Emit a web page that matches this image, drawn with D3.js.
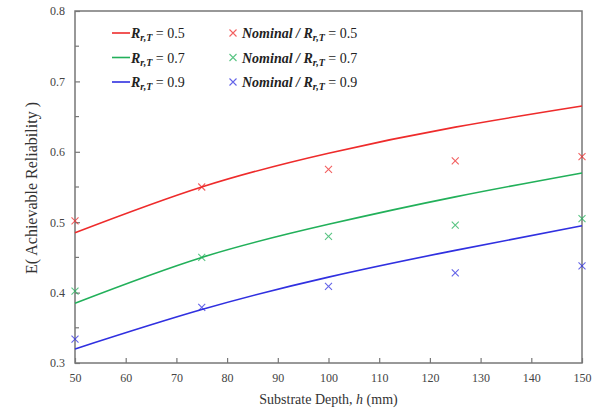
<!DOCTYPE html>
<html>
<head>
<meta charset="utf-8">
<script src="https://cdn.jsdelivr.net/npm/d3@7"></script>
<style>
  body { margin: 0; background: #fff; }
  svg text { font-family: "Liberation Serif", "Times New Roman", serif; }
</style>
</head>
<body>
<div id="chart"></div>
<script>
// data
const depths = [50, 75, 100, 125, 150];
const modelR05 = [0.485, 0.550, 0.598, 0.635, 0.665];
const modelR07 = [0.385, 0.450, 0.497, 0.536, 0.570];
const modelR09 = [0.320, 0.376, 0.422, 0.460, 0.495];
const nomR05 = [0.502, 0.550, 0.575, 0.587, 0.593];
const nomR07 = [0.402, 0.450, 0.480, 0.496, 0.505];
const nomR09 = [0.334, 0.379, 0.409, 0.428, 0.438];
const xTicks = [50, 60, 70, 80, 90, 100, 110, 120, 130, 140, 150];
const yTicks = [0.3, 0.4, 0.5, 0.6, 0.7, 0.8];
const yMinor = [0.35, 0.45, 0.55, 0.65, 0.75];

const series = [
    { r: "0.5", color: "#ee2b2b", line: modelR05, pts: nomR05 },
    { r: "0.7", color: "#22b05a", line: modelR07, pts: nomR07 },
    { r: "0.9", color: "#3030e0", line: modelR09, pts: nomR09 }
];

const width = 594, height = 413;
const margin = { top: 11, right: 12, bottom: 50, left: 75 };
const w = width - margin.left - margin.right;
const h = height - margin.top - margin.bottom;

const svg = d3.select("#chart").append("svg")
    .attr("width", width)
    .attr("height", height);

const g = svg.append("g")
    .attr("transform", `translate(${margin.left},${margin.top})`);

const x = d3.scaleLinear().domain([50, 150]).range([0, w]);
const y = d3.scaleLinear().domain([0.3, 0.8]).range([h, 0]);

const axisColor = "#777";
const labelColor = "#444";
const serif = "'Liberation Serif', 'Times New Roman', serif";

// frame
g.append("rect")
    .attr("width", w).attr("height", h)
    .attr("fill", "none")
    .attr("stroke", axisColor)
    .attr("stroke-width", 1.5);

// x axis, ticks inward
const xAxis = g.append("g")
    .attr("transform", `translate(0,${h})`)
    .call(d3.axisBottom(x).tickValues(xTicks).tickSizeInner(-5).tickSizeOuter(0).tickPadding(10));
xAxis.select(".domain").remove();
xAxis.selectAll("line").attr("stroke", axisColor).attr("stroke-width", 1.2);
xAxis.selectAll("text").attr("fill", labelColor)
    .style("font-family", serif).style("font-size", "12px");

// y axis, ticks inward
const yAxis = g.append("g")
    .call(d3.axisLeft(y).tickValues(yTicks).tickFormat(d3.format(".1f")).tickSizeInner(-5).tickSizeOuter(0).tickPadding(10));
yAxis.select(".domain").remove();
yAxis.selectAll("line").attr("stroke", axisColor).attr("stroke-width", 1.2);
yAxis.selectAll("text").attr("fill", labelColor)
    .style("font-family", serif).style("font-size", "12px");

g.append("g").selectAll("line")
    .data(yMinor)
    .enter()
    .append("line")
    .attr("x1", 0).attr("x2", 4)
    .attr("y1", d => y(d)).attr("y2", d => y(d))
    .attr("stroke", axisColor).attr("stroke-width", 1.2);

// curves
const line = d3.line()
    .x((d, i) => x(depths[i]))
    .y(d => y(d))
    .curve(d3.curveNatural);

series.forEach(s => {
    g.append("path")
        .datum(s.line)
        .attr("d", line)
        .attr("fill", "none")
        .attr("stroke", s.color)
        .attr("stroke-width", 1.6);

    const sz = 3.5;
    g.append("g").selectAll("path")
        .data(s.pts)
        .enter()
        .append("path")
        .attr("d", (d, i) => {
            const cx = x(depths[i]), cy = y(d);
            return `M${cx - sz},${cy - sz}L${cx + sz},${cy + sz}M${cx - sz},${cy + sz}L${cx + sz},${cy - sz}`;
        })
        .attr("stroke", s.color)
        .attr("stroke-opacity", 0.75)
        .attr("stroke-width", 1.1);
});

// legend
series.forEach((s, i) => {
    const ly = 33 + i * 24.5;
    svg.append("line")
        .attr("x1", 112).attr("x2", 130)
        .attr("y1", ly).attr("y2", ly)
        .attr("stroke", s.color).attr("stroke-width", 1.6);

    const t1 = svg.append("text")
        .attr("x", 131).attr("y", ly + 5)
        .attr("fill", "#222")
        .style("font-size", "14px");
    t1.append("tspan").attr("font-weight", "bold").attr("font-style", "italic").text("R");
    t1.append("tspan").attr("font-weight", "bold").attr("font-style", "italic")
        .attr("dy", 3).style("font-size", "10px").text("r,T");
    t1.append("tspan").attr("dy", -3).text(" = " + s.r);

    const mx = 233, sz = 3.5;
    svg.append("path")
        .attr("d", `M${mx - sz},${ly - sz}L${mx + sz},${ly + sz}M${mx - sz},${ly + sz}L${mx + sz},${ly - sz}`)
        .attr("stroke", s.color).attr("stroke-opacity", 0.75).attr("stroke-width", 1.1);

    const t2 = svg.append("text")
        .attr("x", 242).attr("y", ly + 5)
        .attr("fill", "#222")
        .style("font-size", "14px");
    t2.append("tspan").attr("font-weight", "bold").attr("font-style", "italic").text("Nominal / R");
    t2.append("tspan").attr("font-weight", "bold").attr("font-style", "italic")
        .attr("dy", 3).style("font-size", "10px").text("r,T");
    t2.append("tspan").attr("dy", -3).text(" = " + s.r);
});

// axis titles
const xt = svg.append("text")
    .attr("x", margin.left + w / 2).attr("y", 404)
    .attr("text-anchor", "middle")
    .attr("fill", "#333")
    .style("font-size", "14px");
xt.append("tspan").text("Substrate Depth, ");
xt.append("tspan").attr("font-style", "italic").text("h");
xt.append("tspan").text(" (mm)");

svg.append("text")
    .attr("transform", "translate(37,188) rotate(-90)")
    .attr("text-anchor", "middle")
    .attr("fill", "#333")
    .style("font-size", "16px")
    .text("E( Achievable Reliability )");
</script>
</body>
</html>
